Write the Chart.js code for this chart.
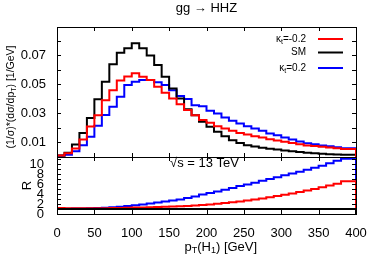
<!DOCTYPE html>
<html lang="en">
  <head>
    <meta charset="UTF-8" />
    <title>gg → HHZ</title>
    <script src="https://cdn.jsdelivr.net/npm/chart.js"></script>
    <style>
      html, body { margin: 0; padding: 0; background: #fff; }
      #wrap { width: 374px; height: 262px; }
    </style>
  </head>
  <body>
    <div id="wrap"><canvas id="c" width="374" height="262"></canvas></div>
    <script>
      // bin left edges, 10 GeV wide
      var binEdges = [0, 10, 20, 30, 40, 50, 60, 70, 80, 90, 100, 110, 120, 130, 140, 150, 160, 170, 180, 190,
        200, 210, 220, 230, 240, 250, 260, 270, 280, 290, 300, 310, 320, 330, 340, 350, 360, 370, 380, 390];

      // normalised distributions (upper panel)
      var distKm02 = [0.0005, 0.001, 0.0025, 0.0059, 0.012, 0.021, 0.0288, 0.039, 0.046, 0.0527,
        0.0555, 0.0576, 0.0553, 0.053, 0.0483, 0.0442, 0.0403, 0.0364, 0.0323, 0.0288,
        0.0255, 0.0235, 0.0212, 0.0196, 0.018, 0.0166, 0.0155, 0.0143, 0.0134, 0.0123,
        0.0113, 0.0105, 0.0097, 0.0088, 0.008, 0.0075, 0.007, 0.0065, 0.006, 0.0055];
      var distSM = [0.0005, 0.001, 0.003, 0.0086, 0.0166, 0.0268, 0.0398, 0.0518, 0.0638, 0.0718,
        0.0748, 0.0783, 0.0748, 0.0698, 0.0633, 0.0553, 0.0472, 0.0403, 0.0328, 0.0288,
        0.0242, 0.0208, 0.0173, 0.0143, 0.0116, 0.0097, 0.0081, 0.0072, 0.0064, 0.0057,
        0.0051, 0.0045, 0.0039, 0.0034, 0.0029, 0.0025, 0.0022, 0.0019, 0.0017, 0.0015];
      var distKp02 = [0.0003, 0.0008, 0.0015, 0.004, 0.0081, 0.0139, 0.0215, 0.029, 0.0346, 0.0415,
        0.0495, 0.0518, 0.053, 0.053, 0.0515, 0.0495, 0.046, 0.042, 0.04, 0.0357,
        0.035, 0.0318, 0.03, 0.0272, 0.0249, 0.0231, 0.0212, 0.0196, 0.018, 0.0162,
        0.015, 0.0134, 0.012, 0.0106, 0.0095, 0.0087, 0.008, 0.0074, 0.0067, 0.006];

      // ratio to SM (lower panel)
      var ratioKm02 = [1.2, 1.2, 1.15, 1.15, 1.15, 1.15, 1.15, 1.15, 1.2, 1.2,
        1.25, 1.3, 1.3, 1.35, 1.4, 1.45, 1.5, 1.55, 1.6, 1.7,
        1.8, 1.9, 2.05, 2.2, 2.35, 2.5, 2.7, 2.9, 3.1, 3.35,
        3.6, 3.85, 4.1, 4.4, 4.7, 5.0, 5.35, 5.7, 6.1, 6.6];
      var ratioSM = [1, 1, 1, 1, 1, 1, 1, 1, 1, 1, 1, 1, 1, 1, 1, 1, 1, 1, 1, 1,
        1, 1, 1, 1, 1, 1, 1, 1, 1, 1, 1, 1, 1, 1, 1, 1, 1, 1, 1, 1];
      var ratioKp02 = [1.05, 1.05, 1.05, 1.1, 1.1, 1.15, 1.2, 1.25, 1.35, 1.45,
        1.6, 1.75, 1.9, 2.1, 2.3, 2.5, 2.7, 2.9, 3.2, 3.5,
        3.9, 4.2, 4.5, 4.85, 5.2, 5.6, 5.95, 6.3, 6.7, 7.05,
        7.4, 7.8, 8.15, 8.5, 8.9, 9.3, 9.7, 10.2, 10.7, 11.1];

      var seriesNames = [["κ", "t", "=-0.2"], ["SM", "", ""], ["κ", "t", "=0.2"]];
      var seriesColors = ["#ff0000", "#000000", "#0000ff"];

      var xTicks = [0, 50, 100, 150, 200, 250, 300, 350, 400];
      var distTicks = [0.01, 0.03, 0.05, 0.07];
      var ratioTicks = [0, 2, 4, 6, 8, 10];

      var FONT = "'Liberation Sans', Arial, 'DejaVu Sans', sans-serif";
      Chart.defaults.font.family = FONT;
      Chart.defaults.font.size = 13;
      Chart.defaults.color = "#000";

      function histPoints(vals) {
        var pts = vals.map(function (v, i) {
          return { x: binEdges[i], y: v };
        });
        pts.push({ x: 400, y: vals[vals.length - 1] });
        pts.push({ x: 400, y: 0 });
        return pts;
      }

      function ds(vals, color, axis) {
        return {
          data: histPoints(vals),
          borderColor: color,
          borderWidth: 2,
          pointRadius: 0,
          stepped: "after",
          fill: false,
          yAxisID: axis,
        };
      }

      // draw text with a subscript part: [base, sub, rest]
      function richText(ctx, parts, x, y, size, align) {
        var subSize = Math.round(size * 0.7);
        ctx.font = size + "px " + FONT;
        var w0 = ctx.measureText(parts[0]).width;
        var w2 = ctx.measureText(parts[2]).width;
        ctx.font = subSize + "px " + FONT;
        var w1 = ctx.measureText(parts[1]).width;
        var total = w0 + w1 + w2;
        var sx = align === "right" ? x - total : align === "center" ? x - total / 2 : x;
        ctx.textAlign = "left";
        ctx.textBaseline = "middle";
        ctx.font = size + "px " + FONT;
        ctx.fillText(parts[0], sx, y);
        ctx.font = subSize + "px " + FONT;
        ctx.fillText(parts[1], sx + w0, y + size * 0.3);
        ctx.font = size + "px " + FONT;
        ctx.fillText(parts[2], sx + w0 + w1, y);
      }

      var overlay = {
        id: "overlay",
        afterDraw: function (chart) {
          var ctx = chart.ctx;
          var a = chart.chartArea;
          var sx = chart.scales.x, sD = chart.scales.yD, sR = chart.scales.yR;
          ctx.save();
          ctx.strokeStyle = "#000";
          ctx.lineWidth = 1;
          // frames
          [sD, sR].forEach(function (s) {
            ctx.strokeRect(Math.round(a.left) + 0.5, Math.round(s.top) + 0.5,
              Math.round(a.right - a.left), Math.round(s.bottom - s.top));
          });
          // inward ticks
          ctx.beginPath();
          [sD, sR].forEach(function (s) {
            xTicks.forEach(function (v) {
              var px = Math.round(sx.getPixelForValue(v)) + 0.5;
              ctx.moveTo(px, s.top); ctx.lineTo(px, s.top + 4);
              ctx.moveTo(px, s.bottom); ctx.lineTo(px, s.bottom - 4);
            });
            s.ticks.forEach(function (t) {
              var py = Math.round(s.getPixelForValue(t.value)) + 0.5;
              ctx.moveTo(a.left, py); ctx.lineTo(a.left + 4, py);
              ctx.moveTo(a.right, py); ctx.lineTo(a.right - 4, py);
            });
          });
          ctx.stroke();

          ctx.fillStyle = "#000";
          var cx = (a.left + a.right) / 2;
          // title
          richText(ctx, ["gg → HHZ", "", ""], cx, 8, 13, "center");
          richText(ctx, ["√s = 13 TeV", "", ""], cx - 2, sR.top + 6, 13, "center");
          // legend
          var ly = [39, 52.5, 68];
          seriesNames.forEach(function (n, i) {
            ctx.fillStyle = "#000";
            richText(ctx, n, 306, ly[i], 10, "right");
            ctx.strokeStyle = seriesColors[i];
            ctx.lineWidth = 2;
            ctx.beginPath();
            ctx.moveTo(318, ly[i]);
            ctx.lineTo(343, ly[i]);
            ctx.stroke();
          });
          ctx.fillStyle = "#000";
          // axis titles
          richText(ctx, ["p", "T", "(H"], cx - 22, 247, 13, "left");
          ctx.font = "13px " + FONT;
          var wp = ctx.measureText("p").width + ctx.measureText("(H").width;
          ctx.font = "9px " + FONT;
          wp += ctx.measureText("T").width;
          richText(ctx, ["", "1", ") [GeV]"], cx - 22 + wp, 247, 13, "left");

          ctx.save();
          ctx.translate(11, (sD.top + sD.bottom) / 2 + 5);
          ctx.rotate(-Math.PI / 2);
          ctx.font = "10.5px " + FONT;
          var t1 = "(1/σ)*(dσ/dp", t2 = "T", t3 = ") [1/GeV]";
          var w1 = ctx.measureText(t1).width, w3 = ctx.measureText(t3).width;
          ctx.font = "7px " + FONT;
          var w2 = ctx.measureText(t2).width;
          richText(ctx, [t1, t2, t3], -(w1 + w2 + w3) / 2, 0, 10.5, "left");
          ctx.restore();

          ctx.save();
          ctx.translate(27, (sR.top + sR.bottom) / 2);
          ctx.rotate(-Math.PI / 2);
          richText(ctx, ["R", "", ""], 0, 0, 13, "center");
          ctx.restore();
          ctx.restore();
        },
      };

      new Chart(document.getElementById("c"), {
        type: "line",
        data: {
          datasets: [
            ds(ratioSM, seriesColors[1], "yR"),
            ds(ratioKm02, seriesColors[0], "yR"),
            ds(ratioKp02, seriesColors[2], "yR"),
            ds(distKm02, seriesColors[0], "yD"),
            ds(distSM, seriesColors[1], "yD"),
            ds(distKp02, seriesColors[2], "yD"),
          ],
        },
        options: {
          responsive: false,
          animation: false,
          layout: { padding: { left: 0, right: 18, top: 27, bottom: 0 } },
          plugins: { legend: { display: false }, tooltip: { enabled: false } },
          scales: {
            x: {
              type: "linear",
              min: 0,
              max: 400,
              grid: { display: false },
              border: { display: false },
              ticks: { stepSize: 50, padding: 4, maxRotation: 0, autoSkip: false },
              afterFit: function (s) { s.height = 48; },
            },
            yR: {
              type: "linear",
              position: "left",
              stack: "panels",
              stackWeight: 57,
              min: 0,
              max: 11.45,
              grid: { display: false },
              border: { display: false },
              ticks: {
                stepSize: 1,
                autoSkip: false,
                includeBounds: false,
                padding: 5,
                callback: function (v) { return ratioTicks.indexOf(v) >= 0 ? String(v) : ""; },
              },
              afterFit: function (s) { s.width = 57; },
            },
            yD: {
              type: "linear",
              position: "left",
              stack: "panels",
              stackWeight: 130,
              min: 0,
              max: 0.0895,
              grid: { display: false },
              border: { display: false },
              ticks: {
                stepSize: 0.01,
                autoSkip: false,
                includeBounds: false,
                padding: 3,
                callback: function (v) {
                  var hit = distTicks.filter(function (t) { return Math.abs(t - v) < 1e-6; });
                  return hit.length ? hit[0].toFixed(2) : "";
                },
              },
              afterFit: function (s) { s.width = 57; },
            },
          },
        },
        plugins: [overlay],
      });
    </script>
  </body>
</html>
